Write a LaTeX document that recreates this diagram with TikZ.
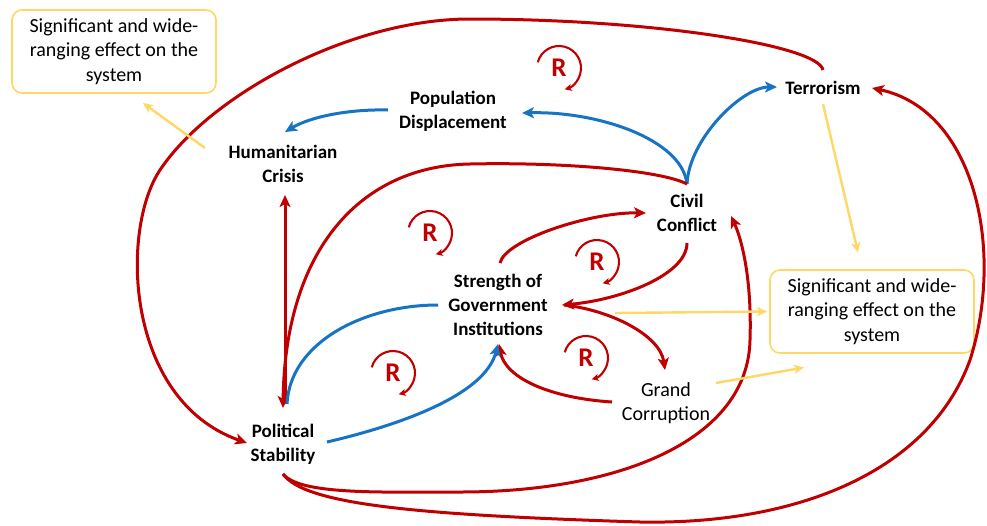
\documentclass[tikz,border=0pt]{standalone}
\usepackage{fontspec}
\setmainfont{Carlito}
\usetikzlibrary{arrows.meta}

\definecolor{loopred}{RGB}{192,0,0}
\definecolor{linkblue}{RGB}{23,115,196}
\definecolor{effectyellow}{RGB}{255,215,100}

\tikzset{
  factor/.style={align=center, font=\fontsize{19}{24}\selectfont\bfseries, inner sep=0pt},
  plainfactor/.style={align=center, font=\fontsize{20}{24}\selectfont, inner sep=0pt},
  effectbox/.style={draw=effectyellow, line width=1.6pt, rounded corners=10pt,
    minimum width=204pt, minimum height=83pt, align=center,
    font=\fontsize{20}{24.5}\selectfont, inner sep=0pt},
  arrowtip/.style={-{Stealth[length=12pt,width=11pt,inset=3pt]}},
  reinforce/.style={draw=loopred, line width=3pt, arrowtip},
  weaken/.style={draw=linkblue, line width=3pt, arrowtip},
  effectarrow/.style={draw=effectyellow, line width=2.4pt, -{Stealth[length=10pt,width=9pt,inset=2.5pt]}},
  looparc/.style={draw=loopred, line width=2.1pt, -{Stealth[length=7pt,width=7pt,inset=1.8pt]}},
  looplabel/.style={text=loopred, font=\fontsize{27}{27}\selectfont\bfseries, inner sep=0pt},
}

\begin{document}
\begin{tikzpicture}[x=1pt,y=-1pt]
\useasboundingbox (0,0) rectangle (987,525);

% factors
\node[factor] (pd) at (453,111) {Population\\Displacement};
\node[factor] (hc) at (283,164) {Humanitarian\\Crisis};
\node[factor] (te) at (823,88) {Terrorism};
\node[factor] (cc) at (687,213) {Civil\\Conflict};
\node[factor] (sgi) at (498,305) {Strength of\\Government\\Institutions};
\node[plainfactor] (gc) at (666,403) {Grand\\Corruption};
\node[factor] (ps) at (283,444) {Political\\Stability};

% system-wide effects
\node[effectbox] (eff1) at (114,51.5) {Significant and wide-\\ranging effect on the\\system};
\node[effectbox] (eff2) at (872,311.5) {Significant and wide-\\ranging effect on the\\system};

% blue links out of civil conflict
\draw[weaken] ([shift={(0,-29)}]cc.center) .. controls (682,139) and (597,111) .. ([shift={(69,2)}]pd.center);
\draw[weaken] ([shift={(0,-29)}]cc.center) .. controls (689,139) and (742,87) .. ([shift={(-46,-1)}]te.center);
\draw[weaken] ([shift={(-65,-1)}]pd.center) .. controls (348,109) and (310,117) .. ([shift={(2,-32)}]hc.center);

% long red loop: terrorism back to political stability
\draw[reinforce] ([shift={(0,-18)}]te.center) .. controls (818,45) and (650,19) .. (470,19)
  .. controls (350,19) and (210,95) .. (160,170)
  .. controls (120,230) and (125,400) .. ([shift={(-36,-1)}]ps.center);

% civil conflict to political stability
\draw[reinforce] ([shift={(0,-29)}]cc.center) .. controls (660,170) and (560,162) .. (470,164)
  .. controls (360,166) and (285,250) .. ([shift={(0,-36)}]ps.center);

% political stability to humanitarian crisis
\draw[reinforce] ([shift={(2,-40)}]ps.center) -- ([shift={(2,31)}]hc.center);

% government institutions and political stability
\draw[draw=linkblue, line width=3pt] ([shift={(-60,0)}]sgi.center) .. controls (363,305) and (290,343) .. ([shift={(4,-40)}]ps.center);
\draw[reinforce] ([shift={(-54,-1)}]gc.center) .. controls (550,398) and (505,378) .. ([shift={(1,39)}]sgi.center);
\draw[weaken] ([shift={(44,-2)}]ps.center) .. controls (400,425) and (485,395) .. ([shift={(0,39)}]sgi.center);

% government institutions and civil conflict
\draw[reinforce] ([shift={(2,-42)}]sgi.center) .. controls (505,240) and (590,212) .. ([shift={(-41,0)}]cc.center);
\draw[reinforce] ([shift={(0,30)}]cc.center) .. controls (687,275) and (620,300) .. ([shift={(64,0)}]sgi.center);

% government institutions to grand corruption
\draw[reinforce] ([shift={(66,0)}]sgi.center) .. controls (610,310) and (660,335) .. ([shift={(-1,-33)}]gc.center);

% political stability to civil conflict and terrorism
\draw[reinforce] ([shift={(0,30)}]ps.center) .. controls (300,495) and (380,492) .. (460,492)
  .. controls (620,492) and (748,440) .. (750,340)
  .. controls (752,280) and (742,240) .. ([shift={(44,3)}]cc.center);
\draw[reinforce] ([shift={(0,30)}]ps.center) .. controls (305,505) and (420,515) .. (640,522)
  .. controls (800,525) and (930,470) .. (970,360)
  .. controls (1005,250) and (975,110) .. ([shift={(49,0)}]te.center);

% spill-over effects
\draw[effectarrow] ([shift={(-78,-16)}]hc.center) -- ([shift={(29,51.5)}]eff1.center);
\draw[effectarrow] ([shift={(0,16)}]te.center) -- ([shift={(-14,-59)}]eff2.center);
\draw[effectarrow] ([shift={(117,8)}]sgi.center) -- ([shift={(-2,0)}]eff2.west);
\draw[effectarrow] ([shift={(50,-20)}]gc.center) -- ([shift={(-68,56)}]eff2.center);

% reinforcing loop markers
\foreach \name/\px/\py in {r1/559/68, r2/430/233, r3/597/262, r4/393/373, r5/586/358} {
  \node[looplabel] (\name) at (\px,\py) {R};
  \draw[looparc] (\name.center) ++(-165:22) arc[start angle=-165, end angle=75, radius=22];
}
\end{tikzpicture}
\end{document}
